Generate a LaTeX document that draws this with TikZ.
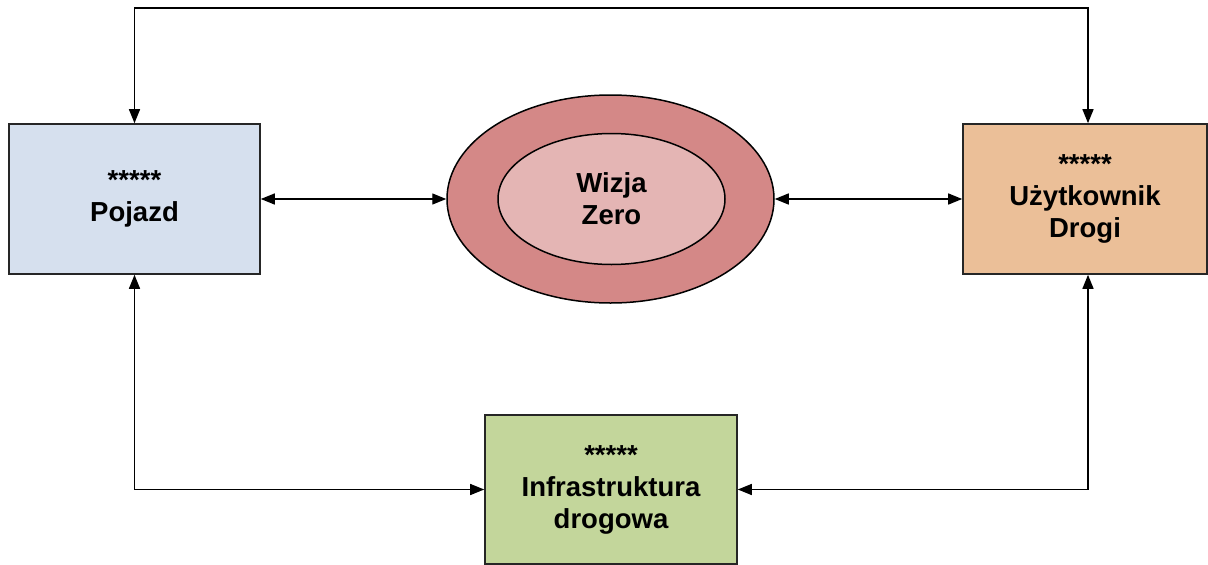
\documentclass[tikz,border=0pt]{standalone}
\usepackage{fontspec}
\setmainfont{Liberation Sans}
\usetikzlibrary{arrows.meta,shapes.geometric}
\definecolor{cPoj}{HTML}{D6E0EE}
\definecolor{cUzy}{HTML}{EBBF98}
\definecolor{cInf}{HTML}{C3D69B}
\definecolor{cOut}{HTML}{D48887}
\definecolor{cIn}{HTML}{E4B5B4}
\tikzset{
  box/.style={draw=black!85, line width=1.6pt, rectangle, inner sep=0pt, align=center,
    font=\fontsize{27.5}{32}\selectfont\bfseries},
  ell/.style={draw=black, line width=1.5pt, ellipse, inner sep=0pt, align=center,
    font=\fontsize{27.5}{32}\selectfont\bfseries},
  link/.style={line width=1.4pt, {Triangle[length=14pt,width=11pt]}-{Triangle[length=14pt,width=11pt]}}
}
\begin{document}
\begin{tikzpicture}[x=1pt,y=-1pt]
\fill[white] (0,0) rectangle (1208,565);
\useasboundingbox (0,0) rectangle (1208,565);
\node[box, fill=cPoj, minimum width=251pt, minimum height=150pt] (poj) at (134.5,199) {*****\\Pojazd};
\node[box, fill=cUzy, minimum width=244pt, minimum height=150pt] (uzy) at (1085,199) {*****\\Użytkownik\\Drogi};
\node[box, fill=cInf, minimum width=252pt, minimum height=149pt] (inf) at (611,489.5) {*****\\Infrastruktura\\drogowa};
\node[ell, fill=cOut, minimum width=327pt, minimum height=208pt] (out) at (610.5,199) {};
\node[ell, fill=cIn, minimum width=227pt, minimum height=131pt] (in) at (611.5,199) {Wizja\\Zero};
\coordinate (topc) at (612,8);
\draw[link] (poj.east) -- (out.west);
\draw[link] (out.east) -- (uzy.west);
\draw[link] (poj.north) |- (topc) -| ([xshift=3pt]uzy.north);
\draw[link] (poj.south) |- (inf.west);
\draw[link] ([xshift=3pt]uzy.south) |- (inf.east);
\end{tikzpicture}
\end{document}
